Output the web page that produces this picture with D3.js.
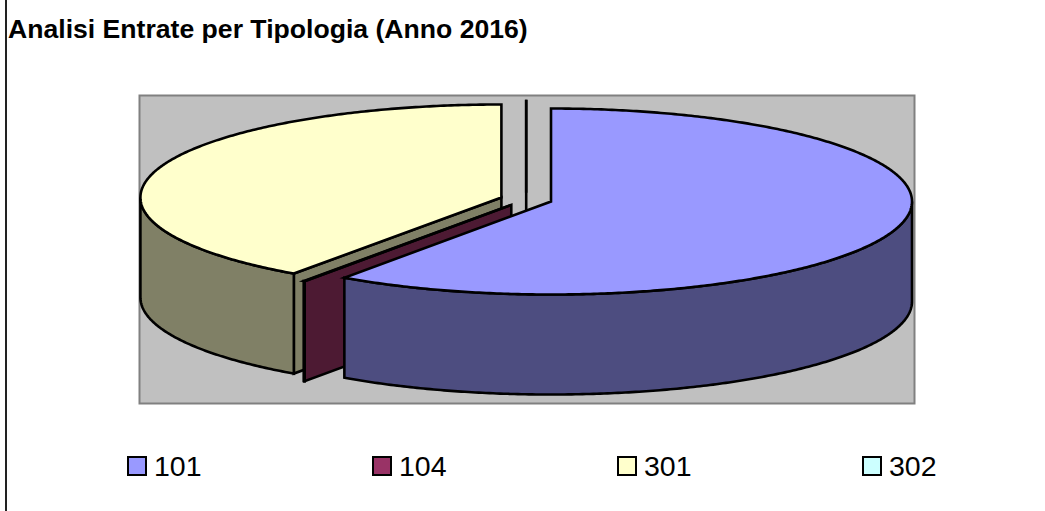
<!DOCTYPE html>
<html>
<head>
<meta charset="utf-8">
<script src="https://cdnjs.cloudflare.com/ajax/libs/d3/7.8.5/d3.min.js"></script>
<style>
html, body { margin: 0; padding: 0; background: #fff; }
svg { display: block; }
text { font-family: "Liberation Sans", Arial, sans-serif; fill: #000; }
</style>
</head>
<body>
<svg class="figure" width="1045" height="511"></svg>
<script>
var title = "Analisi Entrate per Tipologia (Anno 2016)";
var categories = ["101", "104", "301", "302"];
var shares = [59.7, 0.05, 40.25, 0];
var topColors = ["#9999ff", "#993366", "#ffffcc", "#ccffff"];
var sideColors = ["#4d4d80", "#4d1a33", "#808066", "#668080"];

var svg = d3.select("svg.figure");

var centerX = 526.2;
var centerY = 199.5;
var radiusX = 361;
var radiusY = 93;
var depth = 100;
var explode = 26;

var sx = d3.scaleLinear().domain([-1, 1]).range([-radiusX, radiusX]);
var sy = d3.scaleLinear().domain([-1, 1]).range([-radiusY, radiusY]);

var slices = d3.pie().value(function(d) { return d; }).sort(null)(shares);

// chart border, only the left side shows in the frame
svg.append("line")
.attr("x1", 6)
.attr("x2", 6)
.attr("y1", 0)
.attr("y2", 511)
.attr("stroke", "#222")
.attr("stroke-width", 2);

svg.append("rect")
.attr("x", 139.5)
.attr("y", 95.5)
.attr("width", 775)
.attr("height", 308)
.attr("fill", "#c0c0c0")
.attr("stroke", "#808080")
.attr("stroke-width", 2);

svg.append("text")
.attr("x", 8)
.attr("y", 38)
.attr("font-size", 26.6)
.attr("font-weight", "bold")
.text(title);

function rim(t, ox, oy) {
  return [ox + sx(Math.sin(t)), oy + sy(-Math.cos(t))];
}

function arcPoints(a, b, ox, oy) {
  var n = Math.max(1, Math.ceil((b - a) / 0.01));
  return d3.range(n + 1).map(function(i) {
    return rim(a + (b - a) * i / n, ox, oy);
  });
}

var line = d3.line();
var pie3d = svg.append("g")
.attr("stroke", "#000")
.attr("stroke-width", 2.6)
.attr("stroke-linejoin", "miter");

// back to front
d3.range(slices.length - 1, -1, -1).forEach(function(i) {
  var s = slices[i];
  var mid = (s.startAngle + s.endAngle) / 2;
  var ox = centerX + sx(Math.sin(mid)) * explode / radiusX;
  var oy = centerY + sy(-Math.cos(mid)) * explode / radiusX;
  var apex = [ox, oy];

  // cut face on the start side (a small margin, the last angle can land just past 2 pi)
  if (s.startAngle > Math.PI && s.startAngle < 2 * Math.PI + 0.001) {
    var r = rim(s.startAngle, ox, oy);
    pie3d.append("path")
    .attr("fill", sideColors[i])
    .attr("d", line([apex, r, [r[0], r[1] + depth], [apex[0], apex[1] + depth]]) + "Z");
  }

  // outer wall, front half of the ellipse only
  var a = Math.max(s.startAngle, Math.PI / 2);
  var b = Math.min(s.endAngle, 3 * Math.PI / 2);
  if (b > a) {
    var upper = arcPoints(a, b, ox, oy);
    var lower = upper.map(function(p) { return [p[0], p[1] + depth]; }).reverse();
    pie3d.append("path")
    .attr("fill", sideColors[i])
    .attr("d", line(upper.concat(lower)) + "Z");
  }

  // top face
  pie3d.append("path")
  .attr("fill", topColors[i])
  .attr("d", line([apex].concat(arcPoints(s.startAngle, s.endAngle, ox, oy))) + "Z");
});

var legendX = d3.scalePoint().domain(categories).range([127, 862]);
var legend = svg.selectAll("g.legend")
.data(categories)
.enter()
.append("g")
.attr("class", "legend")
.attr("transform", function(d) { return "translate(" + legendX(d) + ",456)"; });

legend.append("rect")
.attr("x", 1)
.attr("y", 1)
.attr("width", 18)
.attr("height", 18)
.attr("fill", function(d, i) { return topColors[i]; })
.attr("stroke", "#000")
.attr("stroke-width", 2);

legend.append("text")
.attr("x", 27)
.attr("y", 20)
.attr("font-size", 28.5)
.text(function(d) { return d; });
</script>
</body>
</html>
